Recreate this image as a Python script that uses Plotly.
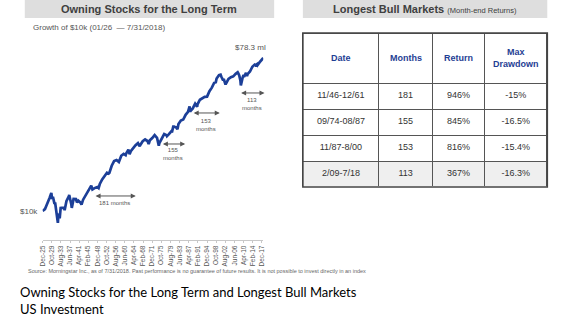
import plotly.graph_objects as go
import math

# ---------------- data ----------------
dates = ["1925-12","1926-06","1926-12","1927-06","1927-12","1928-06","1928-12","1929-08","1929-11","1929-12",
         "1930-04","1930-12","1931-03","1931-12","1932-05","1932-08","1932-12","1933-02","1933-07","1933-12",
         "1934-12","1935-03","1935-12","1936-12","1937-02","1937-12","1938-03","1938-12","1939-12","1940-05",
         "1940-12","1941-12","1942-04","1942-12","1943-12","1944-12","1945-12","1946-05","1946-11","1947-12",
         "1948-12","1949-06","1949-12","1950-12","1951-12","1952-12","1953-08","1953-12","1954-12","1955-12",
         "1956-12","1957-12","1958-12","1959-12","1960-10","1960-12","1961-12","1962-06","1962-12","1963-12",
         "1964-12","1965-12","1966-09","1966-12","1967-12","1968-12","1969-12","1970-06","1970-12","1971-12",
         "1972-12","1973-12","1974-09","1974-12","1975-12","1976-12","1977-12","1978-02","1978-12","1979-12",
         "1980-03","1980-11","1980-12","1981-12","1982-07","1982-12","1983-12","1984-12","1985-12","1986-12",
         "1987-08","1987-11","1987-12","1988-12","1989-12","1990-10","1990-12","1991-12","1992-12","1993-12",
         "1994-12","1995-12","1996-12","1997-12","1998-08","1998-12","1999-12","2000-08","2000-12","2001-09",
         "2001-12","2002-09","2002-12","2003-12","2004-12","2005-12","2006-12","2007-10","2007-12","2008-06",
         "2008-12","2009-02","2009-12","2010-04","2010-06","2010-12","2011-04","2011-09","2011-12","2012-12",
         "2013-12","2014-12","2015-08","2015-12","2016-02","2016-12","2017-12","2018-03","2018-07"]
growth_multiple = [1.00,1.05,1.12,1.32,1.53,1.72,2.20,2.90,2.05,2.02,
                   2.30,1.52,1.65,0.86,0.50,0.85,0.79,0.65,1.20,1.21,
                   1.20,1.05,1.77,2.37,2.55,1.54,1.20,2.02,2.01,1.65,
                   1.82,1.61,1.45,1.94,2.44,2.92,3.99,4.40,3.55,3.88,
                   4.09,3.85,4.86,6.39,7.93,9.38,8.90,9.29,14.19,18.67,
                   19.89,17.75,25.45,28.5,26.5,28.6,36.3,28.0,33.2,40.7,
                   47.4,53.3,44.5,47.9,59.4,66.0,60.4,50.5,62.8,71.8,
                   85.4,72.8,46.0,53.6,73.5,91.0,84.5,80.0,90.0,106.7,
                   100.0,150.0,141.3,134.4,120.0,163.3,200.1,212.6,280.2,332.3,
                   460.0,330.0,349.7,407.6,536.5,450.0,519.7,678.3,730.0,803.3,
                   814.1,1119.5,1376.3,1835.3,1900.0,2359.6,2856.1,2950.0,2596.1,2100.0,
                   2287.9,1650.0,1782.3,2293.6,2543.2,2668.1,3089.4,3400.0,3259.3,2800.0,
                   2053.4,1560.0,2596.4,2900.0,2600.0,2987.6,3250.0,2700.0,3050.7,3539.0,
                   4685.2,5326.6,5100.0,5400.2,5150.0,6046.1,7366.0,7250.0,7830.0]
start_value = 10000
values = [start_value * g for g in growth_multiple]

tick_dates = ["1925-12","1929-10","1933-08","1937-06","1941-04","1945-02","1948-12","1952-10","1956-08",
              "1960-06","1964-04","1968-02","1971-12","1975-10","1979-08","1983-06","1987-04","1991-02",
              "1994-12","1998-10","2002-08","2006-06","2010-04","2014-02","2017-12"]
tick_labels = ["Dec-25","Oct-29","Aug-33","Jun-37","Apr-41","Feb-45","Dec-48","Oct-52","Aug-56",
               "Jun-60","Apr-64","Feb-68","Dec-71","Oct-75","Aug-79","Jun-83","Apr-87","Feb-91",
               "Dec-94","Oct-98","Aug-02","Jun-06","Apr-10","Feb-14","Dec-17"]

# bull-market arrows as drawn: (start date, end date, growth level, label)
arrow_starts = ["1947-07","1975-10","1988-09","2008-08"]
arrow_ends   = ["1965-01","1985-10","2000-04","2019-01"]
arrow_levels = [2.41e4, 5.07e5, 3.12e6, 1.007e7]
label_levels = [1.60e4, 2.75e5, 1.58e6, 5.43e6]
arrow_texts  = ["181 months","155<br>months","153<br>months","113<br>months"]
label_dates  = ["1956-04","1980-10","1994-06","2013-10"]

table_cols = ["Date","Months","Return","Max<br>Drawdown"]
bull_dates   = ["11/46-12/61","09/74-08/87","11/87-8/00","2/09-7/18"]
bull_months  = ["181","155","153","113"]
bull_returns = ["946%","845%","816%","367%"]
bull_dd      = ["-15%","-16.5%","-15.4%","-16.3%"]

# ---------------- layout helpers ----------------
W, H = 577, 321
def px(x): return x / W
def py(y): return 1 - y / H

FONT = "Liberation Sans, Arial, sans-serif"
NAVY = "#1c3f98"

col_widths = [77, 54, 53, 63]
tbl_left, tbl_right, tbl_top, tbl_head_bottom, tbl_bottom = 302, 549, 33, 83, 187

fig = go.Figure()
fig.add_trace(go.Scatter(x=dates, y=values, mode="lines",
                         line=dict(color=NAVY, width=2.7), cliponaxis=False,
                         hoverinfo="skip", showlegend=False))

fig.add_trace(go.Table(
    domain=dict(x=[px(tbl_left), px(tbl_right)], y=[py(tbl_bottom), py(tbl_top)]),
    columnwidth=col_widths,
    header=dict(values=[""] * len(table_cols),
                height=tbl_head_bottom - tbl_top, align="center",
                fill_color="white",
                line=dict(color="#555555", width=1),
                font=dict(family=FONT, size=9, color="#1f3e94")),
    cells=dict(values=[bull_dates, bull_months, bull_returns, bull_dd],
               height=26, align="center",
               fill_color=[["white", "white", "white", "#efefef"]] * 4,
               line=dict(color="#555555", width=1),
               font=dict(family=FONT, size=9, color="#333333")),
))

shapes = [
    dict(type="rect", xref="paper", yref="paper", x0=px(21), x1=px(273), y0=py(18), y1=py(0),
         fillcolor="#dedede", line=dict(width=0), layer="below"),
    dict(type="rect", xref="paper", yref="paper", x0=px(302), x1=px(549), y0=py(18), y1=py(0),
         fillcolor="#dedede", line=dict(width=0), layer="below"),
    dict(type="rect", xref="paper", yref="paper", x0=px(tbl_left), x1=px(tbl_right),
         y0=py(tbl_bottom), y1=py(tbl_top),
         fillcolor="rgba(0,0,0,0)", line=dict(width=1.6, color="#444444")),
]

ann = [
    dict(text="<b>Owning Stocks for the Long Term</b>", x=px(147), y=py(9), xref="paper", yref="paper",
         showarrow=False, font=dict(family=FONT, size=11, color="#404040"), xanchor="center", yanchor="middle"),
    dict(text="Growth of $10k (01/26  — 7/31/2018)", x=px(27), y=py(27), xref="paper", yref="paper",
         showarrow=False, font=dict(family=FONT, size=8, color="#555555"), xanchor="left", yanchor="middle"),
    dict(text='<b>Longest Bull Markets</b> <span style="font-size:7.5px">(Month-end Returns)</span>',
         x=px(425.5), y=py(9), xref="paper", yref="paper",
         showarrow=False, font=dict(family=FONT, size=11, color="#404040"), xanchor="center", yanchor="middle"),
    dict(text="$10k", x=dates[0], y=math.log10(values[0]), xref="x", yref="y", xshift=-3,
         showarrow=False, font=dict(family=FONT, size=8, color="#555555"), xanchor="right", yanchor="middle"),
    dict(text="$78.3 ml", x=dates[-1], y=math.log10(values[-1]), xref="x", yref="y", yshift=10, xshift=5,
         showarrow=False, font=dict(family=FONT, size=8, color="#555555"), xanchor="right", yanchor="middle"),
    dict(text="Source: Morningstar Inc., as of 7/31/2018. Past performance is no guarantee of future results. "
              "It is not possible to invest directly in an index",
         x=px(22), y=py(271), xref="paper", yref="paper", showarrow=False,
         font=dict(family=FONT, size=5.5, color="#666666"), xanchor="left", yanchor="middle"),
    dict(text="Owning Stocks for the Long Term and Longest Bull Markets<br>US Investment",
         x=px(14), y=py(300), xref="paper", yref="paper", showarrow=False, align="left",
         font=dict(family="Lato, sans-serif", size=13, color="#000000"), xanchor="left", yanchor="middle"),
]

# table header labels, centred in each header cell
edge = tbl_left
for c, w in zip(table_cols, col_widths):
    ann.append(dict(text=f"<b>{c}</b>", x=px(edge + w / 2), y=py((tbl_top + tbl_head_bottom) / 2 + 0.5),
                    xref="paper", yref="paper", showarrow=False, align="center",
                    font=dict(family=FONT, size=9, color="#1f3e94"), xanchor="center", yanchor="middle"))
    edge += w

for s, e, lv, lb, t, ld in zip(arrow_starts, arrow_ends, arrow_levels, label_levels, arrow_texts, label_dates):
    ann.append(dict(text="", x=e, y=math.log10(lv), ax=s, ay=math.log10(lv), xref="x", yref="y",
                    axref="x", ayref="y", showarrow=True, arrowside="end+start", arrowhead=2,
                    arrowsize=1, arrowwidth=1, arrowcolor="#555555"))
    ann.append(dict(text=t, x=ld, y=math.log10(lb), xref="x", yref="y", showarrow=False,
                    font=dict(family=FONT, size=6, color="#555555"), xanchor="center", yanchor="middle"))

fig.update_layout(
    width=W, height=H, margin=dict(l=0, r=0, t=0, b=0),
    paper_bgcolor="white", plot_bgcolor="white",
    shapes=shapes, annotations=ann, showlegend=False,
    xaxis=dict(type="date", domain=[px(39), px(262)], range=["1925-12", "2018-07"],
               tickvals=tick_dates, ticktext=tick_labels, tickangle=-90,
               tickfont=dict(family=FONT, size=6.5, color="#555555"),
               showline=True, linecolor="#c8c8c8", linewidth=1, ticks="outside", ticklen=2,
               tickcolor="#c8c8c8", showgrid=False, zeroline=False),
    yaxis=dict(type="log", domain=[py(240), py(45)], range=[3.262, 8.224],
               showticklabels=False, showgrid=False, zeroline=False, showline=False, ticks=""),
)
fig.write_html("out.html")
